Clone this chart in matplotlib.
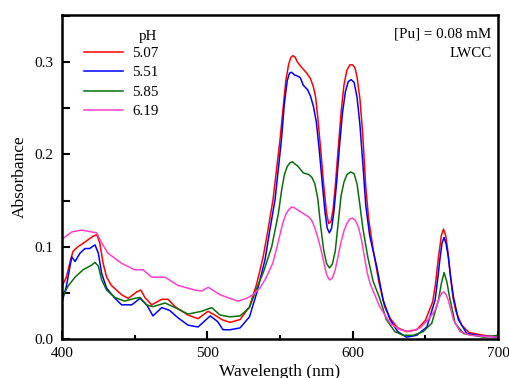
import matplotlib
matplotlib.use("Agg")
import matplotlib.pyplot as plt
from matplotlib.ticker import MultipleLocator, FormatStrFormatter

# ---- data ----
ph_labels = ["5.07", "5.51", "5.85", "6.19"]
colors = ["#ff0000", "#0000ff", "#0a6e0a", "#ff3fc8"]

wl_red = [400, 403, 406, 407.6, 411, 415.8, 421, 424, 426, 428.3, 430.7, 434, 441, 445.5, 451.4, 454.3, 457,
          461.7, 468.6, 473, 477.8, 486.7, 493.6, 500.5, 505, 510, 515.6, 522.5, 529, 534, 538.4, 541.7, 545.2,
          550, 552, 554, 556, 557.5, 559, 560.5, 562, 565, 568.4, 571, 573, 574.5, 576, 578, 580, 582, 583.5,
          585, 586.5, 588, 590, 592, 594, 596, 598, 600, 601.5, 603, 605, 607, 609, 611, 614, 618, 622, 626,
          631, 637, 644, 650, 655, 657, 659, 661, 662.5, 664, 665.5, 667, 669, 671, 675, 680, 690, 700]
abs_red = [0.057, 0.067, 0.086, 0.095, 0.100, 0.105, 0.111, 0.113, 0.104, 0.082, 0.067, 0.058, 0.048, 0.044,
           0.051, 0.053, 0.045, 0.037, 0.043, 0.043, 0.035, 0.026, 0.022, 0.030, 0.026, 0.021, 0.018, 0.021,
           0.035, 0.060, 0.089, 0.118, 0.151, 0.216, 0.248, 0.280, 0.298, 0.305, 0.307, 0.305, 0.300, 0.294,
           0.288, 0.282, 0.273, 0.262, 0.240, 0.205, 0.168, 0.137, 0.125, 0.127, 0.140, 0.165, 0.205, 0.245,
           0.275, 0.291, 0.297, 0.297, 0.294, 0.284, 0.260, 0.220, 0.165, 0.130, 0.098, 0.062, 0.035, 0.022,
           0.012, 0.008, 0.010, 0.020, 0.040, 0.060, 0.088, 0.112, 0.119, 0.112, 0.095, 0.072, 0.045, 0.030,
           0.015, 0.007, 0.004, 0.002]

wl_blue = [400, 403, 406.7, 409, 412.4, 415.8, 419, 422.7, 425, 427.3, 430.7, 436.5, 441, 448, 453.7, 458.3,
           462.6, 468.6, 474, 479.8, 486.7, 493.6, 502, 507, 510.8, 515.6, 522.5, 529, 534, 539.7, 543, 546.6,
           551, 553, 555, 556.5, 558, 560, 562, 564, 566, 569, 571, 573, 575, 577, 579, 581, 582.5, 584, 585.5,
           587, 589, 591, 593, 595, 597, 599, 601, 603, 605, 607, 609, 611.7, 616.6, 621, 625.7, 631, 637, 644,
           651, 656.7, 658.5, 660, 661.5, 662.9, 664.3, 665.8, 667.5, 669.3, 672.7, 678.5, 690, 700]
abs_blue = [0.040, 0.057, 0.089, 0.084, 0.093, 0.098, 0.098, 0.102, 0.093, 0.071, 0.055, 0.044, 0.037, 0.037,
            0.044, 0.037, 0.025, 0.034, 0.031, 0.023, 0.015, 0.013, 0.025, 0.019, 0.010, 0.010, 0.012, 0.024,
            0.050, 0.086, 0.118, 0.151, 0.216, 0.255, 0.280, 0.288, 0.289, 0.286, 0.285, 0.283, 0.275, 0.270,
            0.263, 0.252, 0.235, 0.205, 0.170, 0.137, 0.120, 0.115, 0.120, 0.137, 0.170, 0.210, 0.245, 0.268,
            0.279, 0.281, 0.278, 0.262, 0.232, 0.190, 0.145, 0.112, 0.078, 0.042, 0.021, 0.008, 0.002, 0.004,
            0.013, 0.042, 0.065, 0.086, 0.104, 0.110, 0.103, 0.089, 0.066, 0.046, 0.021, 0.006, 0.003, 0.002]

wl_green = [400, 404, 409, 414.5, 420.4, 422.7, 425, 427.3, 430.7, 436.5, 443, 450, 453.7, 458, 462.6, 470.9,
            477.8, 486.7, 496, 503, 508.7, 515.6, 522.5, 529, 534, 538.5, 544.3, 548.9, 551, 553, 555, 557,
            558.5, 560, 562.4, 566, 570, 572, 574, 576, 578, 580, 582, 584, 586, 588, 590, 592, 594, 596, 598.6,
            601, 603, 605, 607, 610.5, 614, 618.6, 623.2, 629, 634.8, 641.7, 648.5, 654.4, 659, 661, 662.9,
            664.8, 666.6, 670.5, 676.2, 690, 700]
abs_green = [0.044, 0.057, 0.067, 0.075, 0.080, 0.083, 0.079, 0.064, 0.053, 0.045, 0.041, 0.044, 0.045, 0.037,
             0.035, 0.039, 0.034, 0.027, 0.030, 0.034, 0.026, 0.024, 0.025, 0.034, 0.055, 0.072, 0.100, 0.136,
             0.160, 0.178, 0.187, 0.191, 0.192, 0.190, 0.187, 0.180, 0.178, 0.175, 0.168, 0.152, 0.122, 0.097,
             0.082, 0.077, 0.081, 0.095, 0.125, 0.155, 0.170, 0.178, 0.181, 0.179, 0.168, 0.145, 0.120, 0.088,
             0.063, 0.044, 0.021, 0.008, 0.004, 0.004, 0.008, 0.017, 0.042, 0.060, 0.072, 0.062, 0.046, 0.017,
             0.006, 0.002, 0.004]

wl_pink = [400, 406.7, 413.5, 420.4, 423.9, 427.3, 431.6, 441, 450, 455.7, 461.7, 470.9, 479.8, 491.5, 496,
           500.6, 508.7, 515.6, 521, 527, 531.5, 536, 540, 545, 548, 552, 554, 556, 558, 560, 562, 564, 567,
           570, 572, 574, 576, 578, 580, 582, 584, 586, 588, 590, 592, 594, 596, 598, 600, 602, 604, 606, 608,
           610, 612, 618.6, 625.7, 632.6, 639.5, 646.4, 652, 656.7, 660, 661.5, 662.9, 664.3, 665.8, 669.3,
           673.9, 680.8, 690, 700]
abs_pink = [0.108, 0.116, 0.118, 0.116, 0.115, 0.104, 0.093, 0.082, 0.075, 0.075, 0.067, 0.067, 0.058, 0.053,
            0.052, 0.056, 0.048, 0.044, 0.041, 0.044, 0.048, 0.055, 0.065, 0.082, 0.100, 0.126, 0.135, 0.140,
            0.143, 0.142, 0.140, 0.138, 0.135, 0.132, 0.128, 0.120, 0.110, 0.098, 0.084, 0.070, 0.064, 0.066,
            0.075, 0.090, 0.105, 0.117, 0.125, 0.130, 0.131, 0.128, 0.121, 0.108, 0.090, 0.072, 0.060, 0.035,
            0.017, 0.010, 0.008, 0.012, 0.021, 0.031, 0.046, 0.050, 0.051, 0.048, 0.042, 0.021, 0.008, 0.004,
            0.003, 0.002]

series = [(wl_red, abs_red), (wl_blue, abs_blue), (wl_green, abs_green), (wl_pink, abs_pink)]

# ---- figure ----
plt.rcParams["font.family"] = ["Liberation Serif", "DejaVu Serif"]
fig = plt.figure(figsize=(5.09, 3.78), dpi=100)
ax = fig.add_axes([0.1218, 0.1032, 0.8566, 0.8571])

for (x, y), c, lab in zip(series, colors, ph_labels):
    ax.plot(x, y, color=c, lw=1.1, label=lab)

ax.set_xlim(400, 700)
ax.set_ylim(0, 0.351)
ax.xaxis.set_major_locator(MultipleLocator(100))
ax.xaxis.set_minor_locator(MultipleLocator(50))
ax.yaxis.set_major_locator(MultipleLocator(0.1))
ax.yaxis.set_minor_locator(MultipleLocator(0.05))
ax.yaxis.set_major_formatter(FormatStrFormatter("%.1f"))
ax.tick_params(which="major", direction="in", length=6, width=1.5, labelsize=11, pad=6)
ax.tick_params(axis="y", which="minor", direction="in", length=6, width=1.5)
ax.tick_params(axis="x", which="minor", direction="in", length=3, width=1.5)
for s in ax.spines.values():
    s.set_linewidth(1.8)

ax.set_xlabel("Wavelength (nm)", fontsize=12.5, labelpad=3)
ax.set_ylabel("Absorbance", fontsize=12.5, labelpad=5)

leg = ax.legend(loc="upper left", frameon=False, fontsize=10.8,
                handlelength=2.6, handletextpad=0.6, labelspacing=0.39, borderaxespad=0.0,
                bbox_to_anchor=(0.037, 0.921))
ax.text(0.197, 0.935, "pH", transform=ax.transAxes, ha="center", va="center", fontsize=10.8)

ax.text(0.985, 0.962, "[Pu] = 0.08 mM", transform=ax.transAxes, ha="right", va="top", fontsize=10.8)
ax.text(0.985, 0.90, "LWCC", transform=ax.transAxes, ha="right", va="top", fontsize=10.8)

fig.savefig("out.png", dpi=100)
